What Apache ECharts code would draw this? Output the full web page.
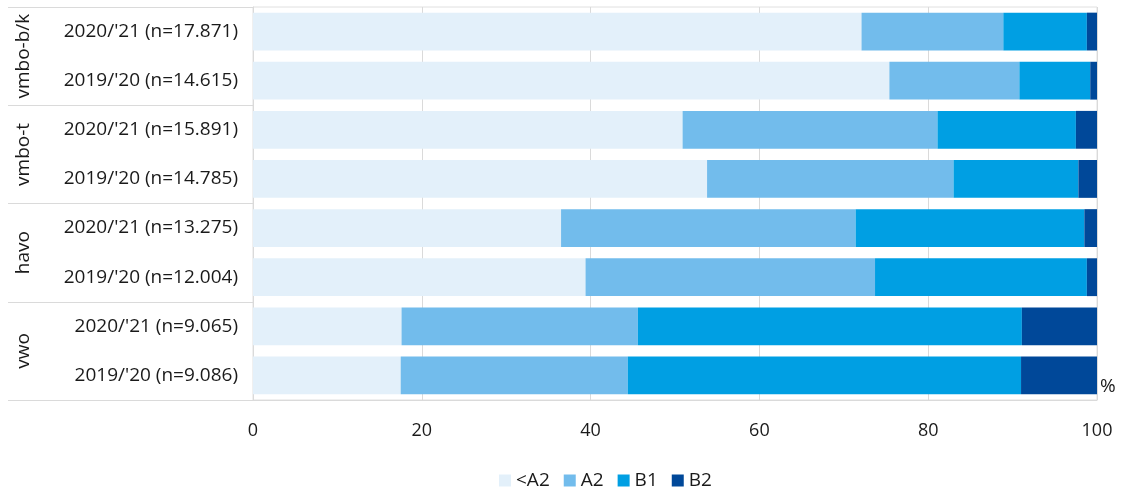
<!DOCTYPE html>
<html>
<head>
<meta charset="utf-8">
<style>
  html, body { margin: 0; padding: 0; background: #fff; }
  #chart { width: 1125px; height: 491px; }
</style>
<script src="https://cdn.jsdelivr.net/npm/echarts@6/dist/echarts.min.js"></script>
</head>
<body>
<div id="chart"></div>
<script>
// Row labels (top to bottom) and their school-type groups
const rowLabels = [
  "2020/'21 (n=17.871)", "2019/'20 (n=14.615)",
  "2020/'21 (n=15.891)", "2019/'20 (n=14.785)",
  "2020/'21 (n=13.275)", "2019/'20 (n=12.004)",
  "2020/'21 (n=9.065)",  "2019/'20 (n=9.086)"
];
const groupLabels = ["vmbo-b/k", "vmbo-t", "havo", "vwo"];

// Share of pupils per level (%)
const levelNames = ["<A2", "A2", "B1", "B2"];
const belowA2 = [72.1, 75.4, 50.9, 53.8, 36.5, 39.4, 17.6, 17.5];
const a2      = [16.8, 15.4, 30.2, 29.2, 34.9, 34.3, 28.0, 26.9];
const b1      = [ 9.9,  8.4, 16.4, 14.8, 27.1, 25.1, 45.5, 46.6];
const b2      = [ 1.2,  0.8,  2.5,  2.2,  1.5,  1.2,  8.9,  9.0];
const xTicks = [0, 20, 40, 60, 80, 100];

const colors = ["#E3F0FA", "#72BCEC", "#009FE3", "#004899"];
const seriesValues = [belowA2, a2, b1, b2];
const fontFamily = "'Open Sans', 'Noto Sans', sans-serif";
const textColor = '#1a1a1a';

const chart = echarts.init(document.getElementById('chart'), null, { renderer: 'canvas' });

chart.setOption({
  animation: false,
  color: colors,
  grid: {
    left: 253, right: 28, top: 7, bottom: 91,
    show: true, borderColor: '#E0E0E0', borderWidth: 1
  },
  legend: {
    data: levelNames,
    left: 494,
    top: 466,
    itemWidth: 12,
    itemHeight: 12,
    itemGap: 14,
    icon: 'rect',
    textStyle: { fontFamily: fontFamily, fontSize: 19, color: textColor }
  },
  xAxis: {
    type: 'value',
    min: xTicks[0],
    max: xTicks[xTicks.length - 1],
    interval: 20,
    name: '%',
    nameLocation: 'end',
    nameGap: 3,
    nameTextStyle: { fontFamily: fontFamily, fontSize: 19, color: textColor, verticalAlign: 'bottom', padding: [0, 0, 4, 0] },
    axisLine: { show: true, lineStyle: { color: '#DADADA' } },
    axisTick: { show: false },
    splitLine: { show: true, lineStyle: { color: '#DADADA', width: 1 } },
    axisLabel: { fontFamily: fontFamily, fontSize: 18, color: textColor, margin: 22 }
  },
  yAxis: [
    {
      type: 'category',
      data: rowLabels,
      inverse: true,
      position: 'left',
      axisLine: { show: true, lineStyle: { color: '#DADADA' } },
      axisTick: { show: false },
      axisLabel: { fontFamily: fontFamily, fontSize: 19, color: textColor, margin: 15, interval: 0 }
    },
    {
      // school-type groups with separator lines drawn as long ticks
      type: 'category',
      data: groupLabels,
      inverse: true,
      position: 'left',
      axisLine: { show: false },
      axisTick: { show: true, interval: 0, length: 245, lineStyle: { color: '#DADADA' } },
      axisLabel: { fontFamily: fontFamily, fontSize: 19, color: textColor, rotate: 90, margin: 220, interval: 0 }
    }
  ],
  series: seriesValues.map((vals, i) => ({
    name: levelNames[i],
    type: 'bar',
    stack: 'total',
    yAxisIndex: 0,
    barCategoryGap: '23%',
    data: vals,
    itemStyle: { color: colors[i] }
  }))
});
</script>
</body>
</html>
